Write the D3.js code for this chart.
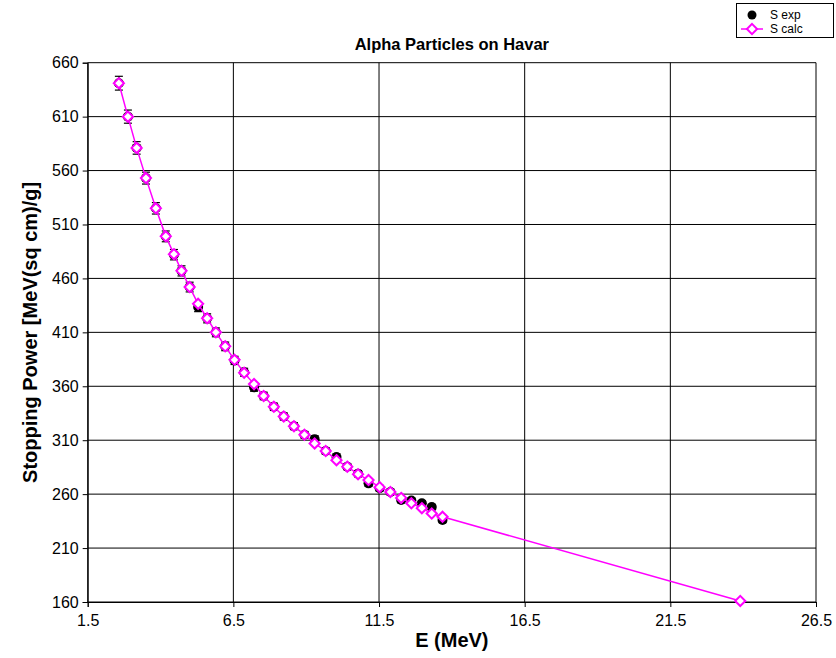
<html>
<head>
<title>Alpha Particles on Havar</title>
<script src="https://d3js.org/d3.v7.min.js"></script>
<style>
body, html {
	margin: 0;
	padding: 0;
	background: #fff;
}
svg {
	font-family: "Liberation Sans", Arial, sans-serif;
}
</style>
</head>
<body>
<svg id="chart" width="836" height="658"></svg>
<script>
// measured data, E in MeV, S in MeV cm2/g
var energyExp = [2.57, 2.88, 3.18, 3.50, 3.84, 4.18, 4.46, 4.72, 5.00, 5.29,
	5.60, 5.90, 6.22, 6.54, 6.87, 7.21, 7.54, 7.89, 8.23, 8.58,
	8.94, 9.29, 9.67, 10.04, 10.41, 10.78, 11.14, 11.52, 11.89, 12.26,
	12.61, 12.97, 13.31, 13.68];
var sExp = [641, 610, 581, 553, 525, 499, 482, 467, 452, 433.5,
	423, 410, 397, 384, 373, 359, 351, 341, 332, 323,
	315, 311, 300, 294.5, 285.5, 279, 270, 265.5, 262, 254.5,
	254, 251.5, 248, 236];
var sExpErr = [6.4, 6.1, 5.8, 5.5, 5.3, 5.0, 4.8, 4.7, 4.5, 4.3,
	4.2, 4.1, 4.0, 3.8, 3.7, 3.6, 3.5, 3.4, 3.3, 3.2,
	3.1, 3.1, 3.0, 2.9, 2.8, 2.8, 2.7, 2.6, 2.6, 2.5,
	2.5, 2.5, 2.5, 2.4];

// calculated curve
var energyCalc = [2.57, 2.88, 3.18, 3.50, 3.84, 4.18, 4.46, 4.72, 5.00, 5.29,
	5.60, 5.90, 6.22, 6.54, 6.87, 7.21, 7.54, 7.89, 8.23, 8.58,
	8.94, 9.29, 9.67, 10.04, 10.41, 10.78, 11.14, 11.52, 11.89, 12.26,
	12.61, 12.97, 13.31, 13.68, 23.9];
var sCalc = [641, 610, 581, 553, 525, 499, 482.5, 467, 452, 436.5,
	423, 410, 397, 384.5, 372.5, 362, 351, 341, 332, 323,
	315, 307, 300, 291.5, 285.5, 278.5, 273, 266.5, 262, 256.5,
	251.5, 247, 242, 239, 161];

var xTicks = [1.5, 6.5, 11.5, 16.5, 21.5, 26.5];
var yTicks = [160, 210, 260, 310, 360, 410, 460, 510, 560, 610, 660];

var svg = d3.select('#chart'),
	plotLeft = 87.7,
	plotRight = 816,
	plotTop = 62.7,
	plotBottom = 602;

var x = d3.scaleLinear().domain([1.5, 26.5]).range([plotLeft, plotRight]);
var y = d3.scaleLinear().domain([160, 660]).range([plotBottom, plotTop]);

// grid
svg.append('g').selectAll('line').data(yTicks).enter().append('line')
	.attr('x1', plotLeft).attr('x2', plotRight)
	.attr('y1', function (d) { return y(d); })
	.attr('y2', function (d) { return y(d); })
	.attr('stroke', '#000').attr('stroke-width', 1);
svg.append('g').selectAll('line').data(xTicks).enter().append('line')
	.attr('y1', plotTop).attr('y2', plotBottom)
	.attr('x1', function (d) { return x(d); })
	.attr('x2', function (d) { return x(d); })
	.attr('stroke', '#000').attr('stroke-width', 1);

// axes
var xAxis = svg.append('g')
	.attr('transform', 'translate(0,' + plotBottom + ')')
	.call(d3.axisBottom(x).tickValues(xTicks).tickSize(5).tickPadding(8)
		.tickFormat(d3.format('.1f')));
var yAxis = svg.append('g')
	.attr('transform', 'translate(' + plotLeft + ',0)')
	.call(d3.axisLeft(y).tickValues(yTicks).tickSize(5).tickPadding(4)
		.tickFormat(d3.format('d')));
[xAxis, yAxis].forEach(function (a) {
	a.select('.domain').attr('stroke', '#000');
	a.selectAll('.tick line').attr('stroke', '#000');
	a.selectAll('.tick text')
		.attr('fill', '#000')
		.style('font-size', '16px')
		.style('font-family', '"Liberation Sans", Arial, sans-serif');
});

// experimental points with error bars
var expData = energyExp.map(function (e, i) {
	return {e: e, s: sExp[i], err: sExpErr[i]};
});
var bars = svg.append('g').attr('stroke', '#000').attr('stroke-width', 1.2);
expData.forEach(function (d) {
	var cx = x(d.e),
		y1 = y(d.s + d.err),
		y2 = y(d.s - d.err);
	bars.append('line').attr('x1', cx).attr('x2', cx).attr('y1', y1).attr('y2', y2);
	bars.append('line').attr('x1', cx - 4).attr('x2', cx + 4).attr('y1', y1).attr('y2', y1);
	bars.append('line').attr('x1', cx - 4).attr('x2', cx + 4).attr('y1', y2).attr('y2', y2);
});
svg.append('g').selectAll('circle').data(expData).enter().append('circle')
	.attr('cx', function (d) { return x(d.e); })
	.attr('cy', function (d) { return y(d.s); })
	.attr('r', 5)
	.attr('fill', '#000');

// calculated curve
var calcData = energyCalc.map(function (e, i) {
	return {e: e, s: sCalc[i]};
});
var line = d3.line()
	.x(function (d) { return x(d.e); })
	.y(function (d) { return y(d.s); });
svg.append('path').datum(calcData)
	.attr('d', line)
	.attr('fill', 'none')
	.attr('stroke', '#ff00ff')
	.attr('stroke-width', 1.5);
var diamond = d3.symbol().type(d3.symbolDiamond2).size(66);
svg.append('g').selectAll('path').data(calcData).enter().append('path')
	.attr('d', diamond)
	.attr('transform', function (d) { return 'translate(' + x(d.e) + ',' + y(d.s) + ')'; })
	.attr('fill', '#fff')
	.attr('stroke', '#ff00ff')
	.attr('stroke-width', 2);

// titles
svg.append('text')
	.attr('x', (plotLeft + plotRight) / 2).attr('y', 50)
	.attr('text-anchor', 'middle')
	.style('font-size', '16.5px').style('font-weight', 'bold')
	.text('Alpha Particles on Havar');
svg.append('text')
	.attr('x', (plotLeft + plotRight) / 2).attr('y', 647)
	.attr('text-anchor', 'middle')
	.style('font-size', '20px').style('font-weight', 'bold')
	.text('E (MeV)');
svg.append('text')
	.attr('transform', 'translate(37,' + ((plotTop + plotBottom) / 2) + ') rotate(-90)')
	.attr('text-anchor', 'middle')
	.style('font-size', '20px').style('font-weight', 'bold')
	.text('Stopping Power [MeV(sq cm)/g]');

// legend
var legend = svg.append('g');
legend.append('rect')
	.attr('x', 736.5).attr('y', 3.5).attr('width', 97).attr('height', 34)
	.attr('fill', '#fff').attr('stroke', '#000');
legend.append('circle').attr('cx', 752).attr('cy', 15).attr('r', 4.5).attr('fill', '#000');
legend.append('text').attr('x', 770).attr('y', 19)
	.style('font-size', '12px').text('S exp');
legend.append('line').attr('x1', 741).attr('x2', 763).attr('y1', 29).attr('y2', 29)
	.attr('stroke', '#ff00ff').attr('stroke-width', 1.5);
legend.append('path').attr('d', diamond)
	.attr('transform', 'translate(752,29)')
	.attr('fill', '#fff').attr('stroke', '#ff00ff').attr('stroke-width', 2);
legend.append('text').attr('x', 770).attr('y', 33)
	.style('font-size', '12px').text('S calc');
</script>
</body>
</html>
